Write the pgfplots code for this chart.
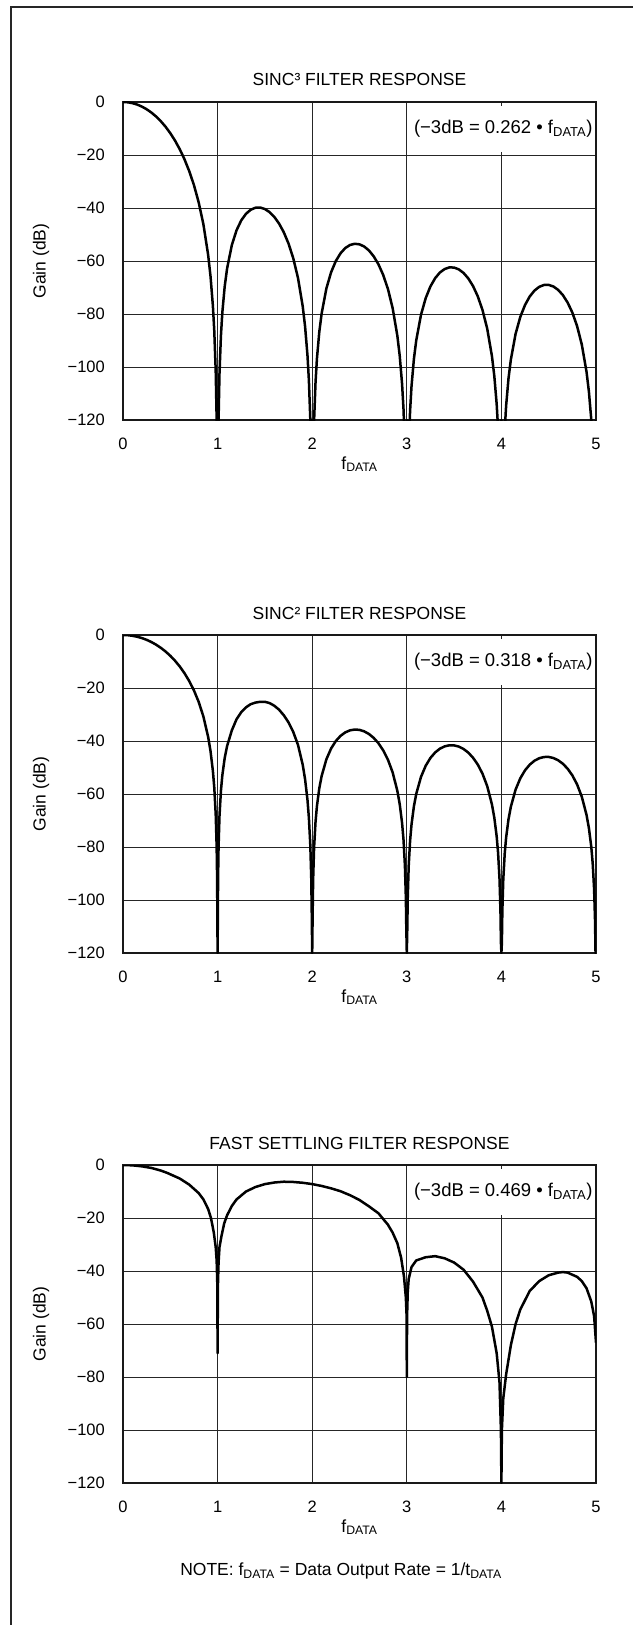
\documentclass[border=0pt]{standalone}
\usepackage{fontspec}
\setmainfont{Liberation Sans}
\usepackage{pgfplots}
\usepackage{pgfplotstable}
\pgfplotsset{compat=1.18}

\newcommand{\sub}[1]{\textsubscript{#1}}

% f, SINC^3 gain (dB), SINC^2 gain (dB)
\pgfplotstableread{
f s3 s2
0 0 0
0.05 -0.11 -0.07
0.1 -0.43 -0.29
0.15 -0.97 -0.65
0.2 -1.74 -1.16
0.25 -2.74 -1.82
0.3 -3.98 -2.65
0.35 -5.48 -3.65
0.4 -7.26 -4.84
0.45 -9.34 -6.23
0.5 -11.77 -7.84
0.55 -14.57 -9.72
0.6 -17.83 -11.88
0.65 -21.61 -14.41
0.7 -26.06 -17.37
0.75 -31.36 -20.91
0.8 -37.86 -25.24
0.85 -46.17 -30.78
0.9 -57.68 -38.46
0.925 -65.71 -43.80
0.95 -76.83 -51.22
0.965 -86.48 -57.65
0.98 -101.43 -67.62
0.99 -119.74 -79.83
0.995 -137.93 -91.96
1 -120 -120
1.005 -138.19 -92.13
1.01 -120.26 -80.18
1.02 -102.47 -68.31
1.035 -88.31 -58.87
1.05 -79.44 -52.96
1.075 -69.62 -46.41
1.1 -62.91 -41.94
1.15 -54.05 -36.03
1.2 -48.43 -31.8
1.25 -44.67 -29.1
1.3 -42.19 -27.3
1.35 -40.66 -26.1
1.4 -39.90 -25.5
1.45 -39.83 -25.2
1.5 -40.39 -25.2
1.55 -41.57 -25.7
1.6 -43.38 -26.7
1.65 -45.89 -28.2
1.7 -49.18 -30.3
1.75 -53.44 -33.0
1.8 -58.99 -36.6
1.85 -66.44 -41.5
1.9 -77.16 -49.0
1.925 -84.80 -54.5
1.95 -95.57 -62.2
1.965 -105.01 -69.0
1.98 -119.76 -79.3
1.99 -137.93 -91.8
1.995 -156.06 -104.04
2 -120 -120
2.005 -156.19 -104.13
2.01 -138.20 -92.13
2.02 -120.28 -80.18
2.035 -105.92 -70.62
2.05 -96.87 -64.58
2.075 -86.76 -57.84
2.1 -79.76 -53.18
2.15 -70.35 -46.90
2.2 -64.22 -42.81
2.25 -59.99 -39.99
2.3 -57.06 -38.04
2.35 -55.10 -36.73
2.4 -53.95 -35.97
2.45 -53.50 -35.67
2.5 -53.71 -35.80
2.55 -54.54 -36.36
2.6 -56.03 -37.36
2.65 -58.23 -38.82
2.7 -61.23 -40.82
2.75 -65.22 -43.48
2.8 -70.50 -47.00
2.85 -77.70 -51.80
2.9 -88.18 -58.78
2.925 -95.71 -63.80
2.95 -106.36 -70.91
2.965 -115.73 -77.15
2.98 -130.41 -86.94
2.99 -148.54 -99.03
2.995 -166.65 -111.10
3 -120 -120
3.005 -166.73 -111.16
3.01 -148.72 -99.15
3.02 -130.76 -87.17
3.035 -116.34 -77.56
3.05 -107.23 -71.49
3.075 -97.01 -64.67
3.1 -89.91 -59.94
3.15 -80.31 -53.54
3.2 -73.98 -49.32
3.25 -69.57 -46.38
3.3 -66.46 -44.31
3.35 -64.34 -42.89
3.4 -63.03 -42.02
3.45 -62.42 -41.61
3.5 -62.47 -41.65
3.55 -63.17 -42.11
3.6 -64.51 -43.01
3.65 -66.57 -44.38
3.7 -69.44 -46.30
3.75 -73.30 -48.87
3.8 -78.46 -52.31
3.85 -85.53 -57.02
3.9 -95.90 -63.93
3.925 -103.37 -68.91
3.95 -113.97 -75.98
3.965 -123.30 -82.20
3.98 -137.95 -91.97
3.99 -156.06 -104.04
3.995 -174.15 -116.10
4 -120 -120
4.005 -174.22 -116.15
4.01 -156.19 -104.13
4.02 -138.21 -92.14
4.035 -123.76 -82.51
4.05 -114.62 -76.41
4.075 -104.35 -69.56
4.1 -97.20 -64.80
4.15 -87.49 -58.33
4.2 -81.07 -54.05
4.25 -76.56 -51.04
4.3 -73.36 -48.91
4.35 -71.15 -47.43
4.4 -69.74 -46.50
4.45 -69.05 -46.04
4.5 -69.02 -46.01
4.55 -69.63 -46.42
4.6 -70.90 -47.27
4.65 -72.88 -48.59
4.7 -75.68 -50.45
4.75 -79.46 -52.97
4.8 -84.55 -56.37
4.85 -91.55 -61.03
4.9 -101.84 -67.90
4.925 -109.28 -72.85
4.95 -119.85 -79.90
4.965 -129.17 -86.11
4.98 -143.79 -95.86
4.99 -161.89 -107.93
4.995 -179.98 -119.98
5 -120 -120
}\sincdata

% fast settling filter, gain (dB)
\pgfplotstableread{
f g
0 0
0.1 -0.12
0.2 -0.5
0.3 -1.1
0.4 -2.1
0.469 -3.0
0.5 -3.5
0.6 -5.1
0.7 -7.4
0.8 -10.6
0.85 -13.0
0.9 -16.6
0.93 -20.0
0.96 -25.5
0.98 -31
0.99 -36
0.997 -45
1.0 -71
1.003 -46
1.01 -37
1.02 -31
1.04 -27
1.07 -22
1.1 -19
1.15 -15.5
1.2 -13
1.3 -10
1.4 -8.3
1.5 -7.2
1.6 -6.6
1.7 -6.3
1.8 -6.4
1.9 -6.7
2.0 -7.2
2.1 -7.9
2.2 -8.8
2.3 -9.9
2.4 -11.4
2.5 -13.2
2.6 -15.6
2.7 -18.2
2.8 -22.5
2.85 -25.5
2.9 -29.5
2.94 -35
2.97 -42
2.99 -50
2.998 -57
3.0 -80
3.003 -57
3.01 -48
3.02 -43
3.05 -38.5
3.1 -36
3.2 -34.8
3.3 -34.4
3.4 -35.2
3.5 -36.8
3.6 -39.5
3.7 -44
3.8 -50
3.85 -55
3.9 -61
3.95 -71
3.98 -82
3.995 -100
4.0 -120
4.005 -100
4.02 -88
4.05 -79
4.1 -68
4.15 -60
4.2 -54.5
4.3 -47.5
4.4 -43.8
4.5 -41.6
4.6 -40.6
4.65 -40.4
4.7 -40.6
4.8 -42.2
4.85 -43.8
4.9 -46.5
4.95 -51.5
4.98 -57
5.0 -67
}\fastdata

\pgfplotsset{
  filt/.style={
    scale only axis, width=473bp, height=318bp,
    xmin=0, xmax=5, ymin=-120, ymax=0,
    xtick={0,1,2,3,4,5}, xticklabels={0,1,2,3,4,5},
    ytick={-120,-100,-80,-60,-40,-20,0},
    yticklabels={−120,−100,−80,−60,−40,−20,0},
    major tick length=0pt,
    grid=major,
    major grid style={black!85, line width=0.8bp},
    axis line style={black!90, line width=2bp},
    every x tick label/.style={anchor=base, inner sep=0pt, yshift=-29bp, font=\fontsize{16.5bp}{19bp}\selectfont},
    every y tick label/.style={anchor=east, inner sep=0pt, xshift=-18bp, font=\fontsize{16.5bp}{19bp}\selectfont},
    every axis title/.style={at={(axis description cs:0.5,1)}, anchor=base, yshift=16bp, inner sep=0pt},
    every axis x label/.style={at={(axis description cs:0.5,0)}, anchor=base, yshift=-49bp, inner sep=0pt},
    every axis y label/.style={at={(axis description cs:-0.1734,0.5)}, anchor=center, rotate=90, inner sep=0pt},
    xlabel={f\sub{DATA}}, ylabel={Gain (dB)},
    clip=true,
  },
}
\tikzset{
  curve/.style={black, line width=2.5bp, line join=round, mark=none},
  note/.style={anchor=east, fill=white, inner xsep=1bp, inner ysep=14bp, font=\fontsize{18.5bp}{21bp}\selectfont},
}

\begin{document}
\begin{tikzpicture}[font=\fontsize{17.5bp}{20bp}\selectfont]
\useasboundingbox (0,0) rectangle (633bp,-1625bp);
\draw[line width=2bp, black!85] (11bp,-1625bp) -- (11bp,-7bp) -- (633bp,-7bp);

\begin{axis}[filt, at={(123bp,-102bp)}, anchor=north west,
  title={SINC³ FILTER RESPONSE}]
  \addplot[curve] table[x=f, y=s3] {\sincdata};
  \node[note] at (rel axis cs:0.995,0.915) {(−3dB = 0.262 • f\sub{DATA})};
\end{axis}

\begin{axis}[filt, at={(123bp,-635bp)}, anchor=north west,
  title={SINC² FILTER RESPONSE}]
  \addplot[curve] table[x=f, y=s2] {\sincdata};
  \node[note] at (rel axis cs:0.995,0.915) {(−3dB = 0.318 • f\sub{DATA})};
\end{axis}

\begin{axis}[filt, at={(123bp,-1165bp)}, anchor=north west,
  title={FAST SETTLING FILTER RESPONSE}]
  \addplot[curve] table[x=f, y=g] {\fastdata};
  \node[note] at (rel axis cs:0.995,0.915) {(−3dB = 0.469 • f\sub{DATA})};
\end{axis}

\node at (341bp,-1571bp) {NOTE: f\sub{DATA} = Data Output Rate = 1/t\sub{DATA}};
\end{tikzpicture}
\end{document}
